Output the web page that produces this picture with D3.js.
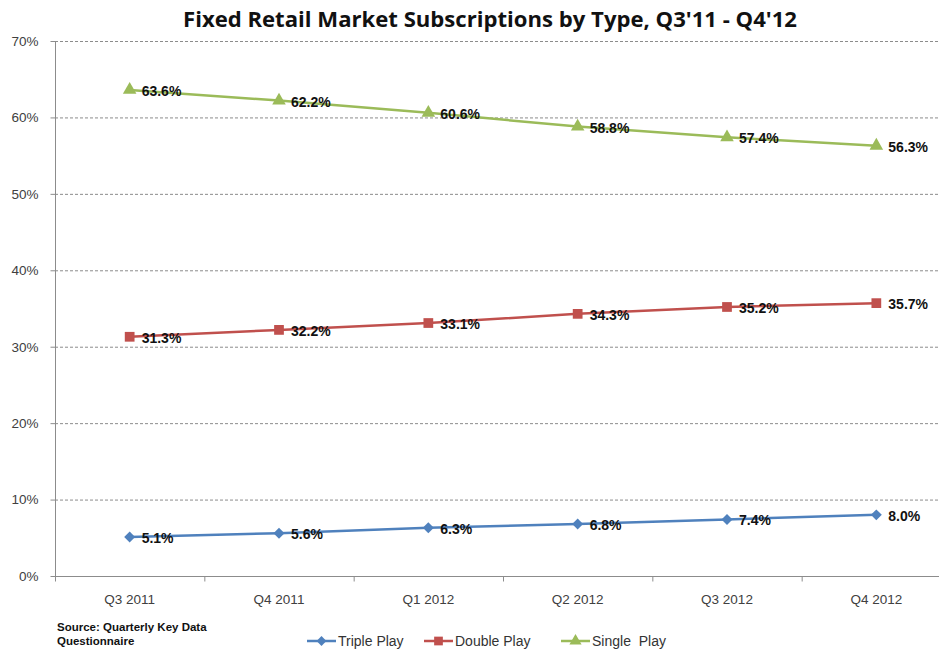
<!DOCTYPE html>
<html><head><meta charset="utf-8">
<script src="https://cdn.jsdelivr.net/npm/d3@7"></script>
<style>body{margin:0;background:#fff}svg{display:block}</style>
</head><body>
<svg id="c" width="939" height="651"></svg>
<script>
const categories = ["Q3 2011","Q4 2011","Q1 2012","Q2 2012","Q3 2012","Q4 2012"];
const triplePlay = [5.1,5.6,6.3,6.8,7.4,8.0];
const doublePlay = [31.3,32.2,33.1,34.3,35.2,35.7];
const singlePlay = [63.6,62.2,60.6,58.8,57.4,56.3];
const yTicks = [0,10,20,30,40,50,60,70];
const seriesNames = ["Triple Play","Double Play","Single  Play"];

const series = [
  {name: seriesNames[0], values: triplePlay, color: "#4F81BD", sym: d3.symbolSquare, size: 60, rot: 45},
  {name: seriesNames[1], values: doublePlay, color: "#C0504D", sym: d3.symbolSquare, size: 95, rot: 0},
  {name: seriesNames[2], values: singlePlay, color: "#9BBB59", sym: d3.symbolTriangle, size: 80, rot: 0}
];

const svg = d3.select("#c");
const x = d3.scaleBand().domain(categories).range([55, 951]);
const y = d3.scaleLinear().domain([0,70]).range([576, 41]);

// title
svg.append("text").attr("x", 490).attr("y", 27).attr("text-anchor","middle")
  .attr("font-family","'Open Sans', sans-serif").attr("font-weight","bold").attr("font-size",21.5)
  .attr("textLength", 614).attr("lengthAdjust","spacingAndGlyphs")
  .attr("fill","#111").text("Fixed Retail Market Subscriptions by Type, Q3'11 - Q4'12");

// gridlines
svg.append("g").selectAll("line").data(yTicks.filter(t=>t>0)).join("line")
  .attr("x1",55).attr("x2",939).attr("y1",d=>y(d)+0.5).attr("y2",d=>y(d)+0.5)
  .attr("stroke","#8c8c8c").attr("stroke-width",1).attr("stroke-dasharray","3,2");

// y axis
const yAxis = d3.axisLeft(y).tickValues(yTicks).tickFormat(d=>d+"%").tickSize(5).tickPadding(12);
const gy = svg.append("g").attr("transform","translate(55.5,0)").call(yAxis);
gy.select(".domain").attr("stroke","#8c8c8c").attr("d","M0,41V576.5");
gy.selectAll(".tick line").attr("stroke","#8c8c8c");
gy.selectAll(".tick text").attr("font-family","'Liberation Sans', Arial, sans-serif").attr("font-size",13.5).attr("fill","#404040");

// x axis
const gx = svg.append("g").attr("transform","translate(0,576.5)");
gx.append("line").attr("x1",55).attr("x2",939).attr("stroke","#8c8c8c");
gx.selectAll("line.t").data(categories).join("line").attr("class","t")
  .attr("x1",d=>x(d)+0.5).attr("x2",d=>x(d)+0.5).attr("y1",0).attr("y2",5).attr("stroke","#8c8c8c");
gx.selectAll("text").data(categories).join("text")
  .attr("x",d=>x(d)+x.bandwidth()/2).attr("y",27).attr("text-anchor","middle")
  .attr("font-family","'Liberation Sans', Arial, sans-serif").attr("font-size",13.5).attr("fill","#404040")
  .text(d=>d);

const cx = d=>x(d)+x.bandwidth()/2;
const line = d3.line().x((v,i)=>cx(categories[i])).y(v=>y(v));

series.forEach(s=>{
  const g = svg.append("g");
  g.append("path").attr("d", line(s.values)).attr("fill","none").attr("stroke",s.color).attr("stroke-width",2.5);
  g.selectAll("path.m").data(s.values).join("path").attr("class","m")
    .attr("transform",(v,i)=>`translate(${cx(categories[i])},${y(v)}) rotate(${s.rot})`)
    .attr("d", d3.symbol().type(s.sym).size(s.size)).attr("fill",s.color);
  g.selectAll("text").data(s.values).join("text")
    .attr("x",(v,i)=>cx(categories[i])+12).attr("y",v=>y(v)+6)
    .attr("font-family","'Liberation Sans', Arial, sans-serif").attr("font-weight","bold").attr("font-size",14)
    .attr("fill","#111").text(v=>v.toFixed(1)+"%");
});

// source
const src = svg.append("text").attr("font-family","'Liberation Sans', Arial, sans-serif").attr("font-weight","bold").attr("font-size",11.5).attr("fill","#111");
src.append("tspan").attr("x",57).attr("y",631).text("Source: Quarterly Key Data");
src.append("tspan").attr("x",57).attr("y",645).text("Questionnaire");

// legend
const legX = [307, 424, 561];
series.forEach((s,i)=>{
  const g = svg.append("g").attr("transform",`translate(${legX[i]},641)`);
  g.append("line").attr("x1",0).attr("x2",29).attr("stroke",s.color).attr("stroke-width",2.5);
  g.append("path").attr("transform",`translate(14.5,0) rotate(${s.rot})`).attr("d", d3.symbol().type(s.sym).size(s.size*0.8)).attr("fill",s.color);
  g.append("text").attr("x",31).attr("y",5).attr("font-family","'Liberation Sans', Arial, sans-serif").attr("font-size",14).attr("fill","#333")
    .attr("xml:space","preserve").style("white-space","pre").text(s.name);
});
</script>
</body></html>
